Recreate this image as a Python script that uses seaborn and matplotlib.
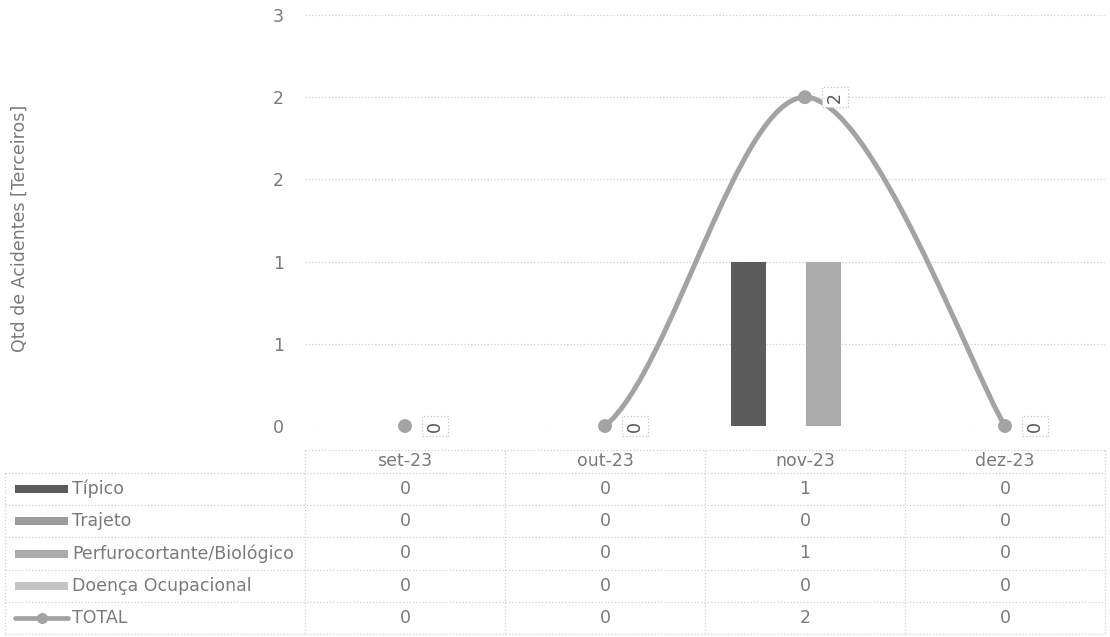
import pandas as pd
import numpy as np
import matplotlib; matplotlib.use('Agg')
import matplotlib.pyplot as plt
import seaborn as sns
from matplotlib.path import Path
from matplotlib.patches import PathPatch, Rectangle
from matplotlib.lines import Line2D

# ===== DATA =====
months = ['set-23', 'out-23', 'nov-23', 'dez-23']
types = ['Típico', 'Trajeto', 'Perfurocortante/Biológico', 'Doença Ocupacional']
tipico = [0, 0, 1, 0]
trajeto = [0, 0, 0, 0]
perfuro = [0, 0, 1, 0]
doenca = [0, 0, 0, 0]
total = [0, 0, 2, 0]
y_ticks = [0, 0.5, 1.0, 1.5, 2.0, 2.5]

bar_colors = ['#5c5c5c', '#9c9c9c', '#ababab', '#c4c4c4']
line_color = '#a3a3a3'
txt = '#7a7a7a'
grid_c = '#cfcfcf'
FS = 12.5

long = pd.DataFrame({
    'mes': months * 4,
    'tipo': sum([[t] * 4 for t in types], []),
    'qtd': tipico + trajeto + perfuro + doenca,
})

sns.set_style('white')
plt.rcParams['font.family'] = ['DejaVu Sans']

W, H = 1110, 637
fig = plt.figure(figsize=(W / 100, H / 100), dpi=100)
# plot area in pixels: x 305..1105, y(2.5)=15 .. y(0)=426
ax = fig.add_axes([305 / W, 1 - 426 / H, 800 / W, 411 / H])

sns.barplot(data=long, x='mes', y='qtd', hue='tipo', order=months, hue_order=types,
            palette=bar_colors, width=0.755, gap=0.07, ax=ax, legend=False,
            saturation=1, edgecolor='none')

ax.set_xlim(-0.5, len(months) - 0.5)
ax.set_ylim(0, 2.5)
ax.set_yticks(y_ticks)
ax.set_yticklabels([str(int(v + 0.5)) for v in y_ticks], color=txt, fontsize=FS)
ax.tick_params(axis='y', length=0, pad=15)
ax.set_xticks([])
ax.set_xlabel(''); ax.set_ylabel('')
for s in ax.spines.values():
    s.set_visible(False)
ax.yaxis.grid(True, color=grid_c, ls=':', lw=0.9)
ax.set_axisbelow(True)

# smoothed TOTAL line (Excel style Catmull-Rom bezier)
xs = np.arange(len(total), dtype=float)
ys = np.array(total, dtype=float)
for i in range(len(xs) - 1):
    if ys[i] == ys[i + 1]:
        continue
    p0 = np.array([xs[max(i - 1, 0)], ys[max(i - 1, 0)]])
    p1 = np.array([xs[i], ys[i]])
    p2 = np.array([xs[i + 1], ys[i + 1]])
    p3 = np.array([xs[min(i + 2, len(xs) - 1)], ys[min(i + 2, len(xs) - 1)]])
    c1 = p1 + (p2 - p0) / 6
    c2 = p2 - (p3 - p1) / 6
    path = Path([p1, c1, c2, p2], [Path.MOVETO, Path.CURVE4, Path.CURVE4, Path.CURVE4])
    ax.add_patch(PathPatch(path, fc='none', ec=line_color, lw=3.6, capstyle='round', zorder=4))
ax.scatter(xs, ys, s=100, color=line_color, zorder=5, clip_on=False, edgecolor='none')
for x, y in zip(xs, ys):
    ax.annotate(str(int(y)), (x, y), xytext=(30, 0), textcoords='offset pixels',
                rotation=90, ha='center', va='center', color='#555555', fontsize=FS,
                bbox=dict(boxstyle='square,pad=0.25', fc='white', ec='#c4c4c4', ls=':', lw=0.9),
                zorder=6, annotation_clip=False)

# y label
fig.text(20 / W, 1 - 228 / H, 'Qtd de Acidentes [Terceiros]', rotation=90,
         ha='center', va='center', color=txt, fontsize=FS)

# ===== DATA TABLE =====
tab = fig.add_axes([0, 0, 1, 1])
tab.set_xlim(0, W); tab.set_ylim(H, 0); tab.axis('off')
col_edges = [5, 305, 505, 705, 905, 1105]
row_edges = [473, 505, 537, 570, 602, 634]
lk = dict(color=grid_c, ls=':', lw=0.9)
tab.add_line(Line2D([col_edges[1], col_edges[-1]], [450, 450], **lk))
for y in row_edges:
    tab.add_line(Line2D([col_edges[0], col_edges[-1]], [y, y], **lk))
for j, x in enumerate(col_edges):
    top = row_edges[0] if j == 0 else 450
    tab.add_line(Line2D([x, x], [top, row_edges[-1]], **lk))
for j, m in enumerate(months):
    cx = (col_edges[j + 1] + col_edges[j + 2]) / 2
    tab.text(cx, 461.5, m, ha='center', va='center', color=txt, fontsize=FS)

rows = [tipico, trajeto, perfuro, doenca, total]
row_names = types + ['TOTAL']
for r, (name, vals) in enumerate(zip(row_names, rows)):
    cy = (row_edges[r] + row_edges[r + 1]) / 2
    if r < 4:
        tab.add_patch(Rectangle((15, cy - 4), 53, 8, color=bar_colors[r], lw=0))
    else:
        tab.add_line(Line2D([15, 68], [cy, cy], color=line_color, lw=3.4))
        tab.plot([41.5], [cy], 'o', ms=8, color=line_color, mec='none')
    tab.text(72, cy, name, ha='left', va='center', color=txt, fontsize=FS)
    for j, v in enumerate(vals):
        cx = (col_edges[j + 1] + col_edges[j + 2]) / 2
        tab.text(cx, cy, str(v), ha='center', va='center', color=txt, fontsize=FS)

plt.savefig('out.png', dpi=100)
